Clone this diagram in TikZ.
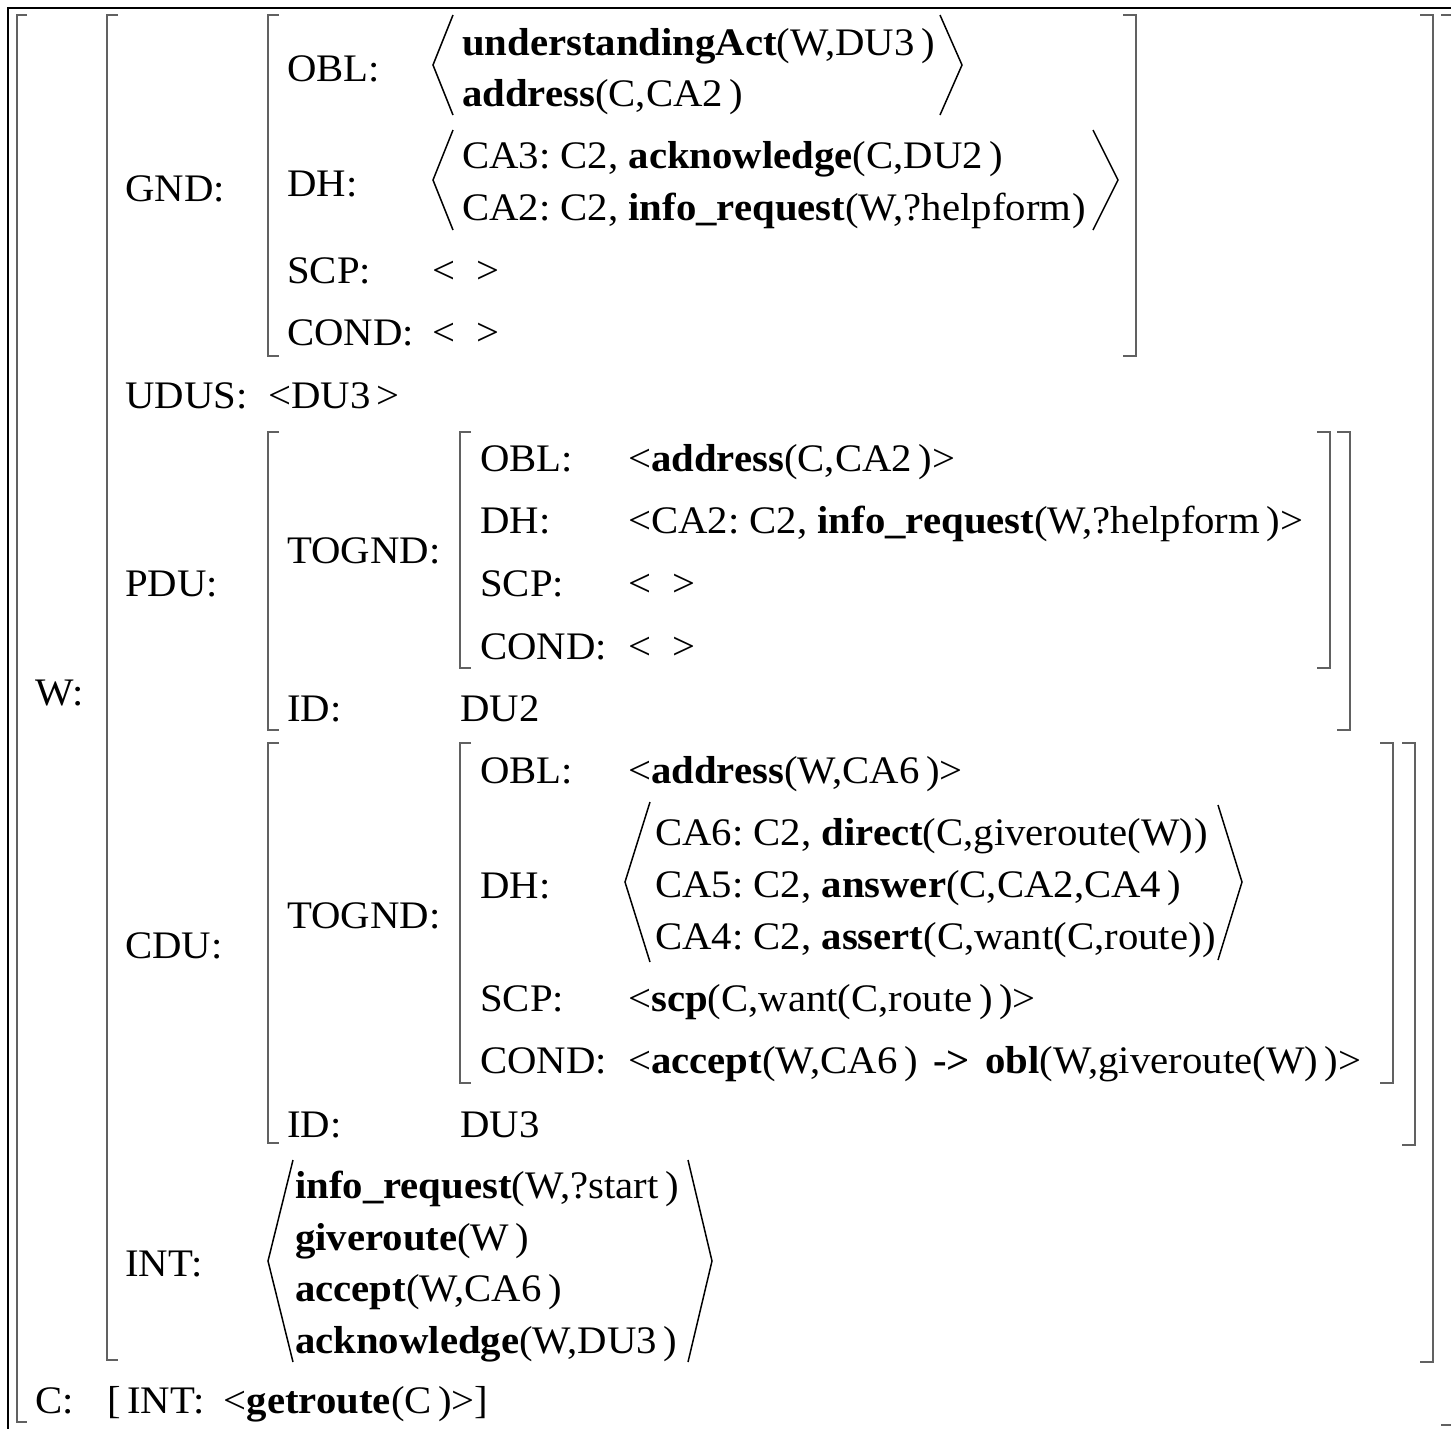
\documentclass[tikz,border=0pt]{standalone}
\usepackage{fontspec}
\setmainfont[FakeStretch=1.045]{Liberation Serif}
\frenchspacing
\newcommand\LBr[3]{\draw[br] (#1+11,#2) -- (#1,#2) -- (#1,#3) -- (#1+11,#3);}
\newcommand\RBr[3]{\draw[br] (#1-13,#2) -- (#1,#2) -- (#1,#3) -- (#1-13,#3);}
\begin{document}
\begin{tikzpicture}[x=1pt,y=-1pt,
  every node/.style={inner sep=0pt, anchor=base west, font=\fontsize{39}{47}\selectfont},
  br/.style={line width=2.4pt, draw=black!62},
  ang/.style={line width=1.5pt, draw=black, line join=miter},
  frame/.style={line width=2.6pt, draw=black}]
\useasboundingbox (0,0) rectangle (1451,1428);
\clip (0,0) rectangle (1451,1428);
% frame
\draw[frame] (8,1432) -- (8,8) -- (1455,8);
% outer bracket
\draw[br] (17+10,15) -- (17,15) -- (17,1422) -- (17+10,1422);
\draw[br] (1441,15) -- (1456,15) -- (1456,1425) -- (1441,1425);
% W value bracket
\LBr{107}{15}{1360}
\RBr{1433}{15}{1362}
% GND bracket
\LBr{268}{15}{356}
\RBr{1136}{15}{356}
% PDU bracket and its TOGND
\LBr{268}{432}{730}
\RBr{1350}{432}{730}
\LBr{460}{432}{668}
\RBr{1330}{432}{668}
% CDU bracket and its TOGND
\LBr{268}{743}{1143}
\RBr{1415}{743}{1145}
\LBr{460}{743}{1083}
\RBr{1393}{743}{1083}
% angle brackets
\draw[ang] (453,15) -- (433,65) -- (453,115);
\draw[ang] (940,15) -- (962,65) -- (940,115);
\draw[ang] (453,130) -- (433,180) -- (453,230);
\draw[ang] (1093,130) -- (1118,180) -- (1093,230);
\draw[ang] (650,802) -- (625,882) -- (650,962);
\draw[ang] (1218,805) -- (1242,882) -- (1218,960);
\draw[ang] (293,1160) -- (268,1261) -- (293,1362);
\draw[ang] (688,1160) -- (712,1261) -- (688,1362);
% top-level labels
\node (w) at (35,705) {W:};
\node (c) at (35,1413) {C:};
\node (cval) at (107,1413) {[\,INT:\hspace{0.5em}<\textbf{getroute}(C\,)>]};
% W features
\node (gnd) at (125,201) {GND:};
\node (udus) at (125,408) {UDUS:};
\node (udusv) at (268,408) {<DU3\,>};
\node (pdu) at (125,596) {PDU:};
\node (cdu) at (125,958) {CDU:};
\node (int) at (125,1276) {INT:};
% GND
\node (gobl) at (287,81) {OBL:};
\node (gobl1) at (462,55) {\textbf{understandingAct}(W,DU3\,)};
\node (gobl2) at (462,106) {\textbf{address}(C,CA2\,)};
\node (gdh) at (287,196) {DH:};
\node (gdh1) at (462,168) {CA3: C2, \textbf{acknowledge}(C,DU2\,)};
\node (gdh2) at (462,220) {CA2: C2, \textbf{info\_request}(W,?helpform\kern1pt)};
\node (gscp) at (287,283) {SCP:};
\node (gscpv) at (432,283) {<\hspace{0.55em}>};
\node (gcond) at (287,345) {COND:};
\node (gcondv) at (432,345) {<\hspace{0.55em}>};
% PDU
\node (ptog) at (287,563) {TOGND:};
\node (pobl) at (480,471) {OBL:};
\node (poblv) at (628,471) {<\textbf{address}(C,CA2\,)>};
\node (pdh) at (480,533) {DH:};
\node (pdhv) at (628,533) {<CA2: C2, \textbf{info\_request}(W,?helpform\,)>};
\node (pscp) at (480,596) {SCP:};
\node (pscpv) at (628,596) {<\hspace{0.55em}>};
\node (pcond) at (480,659) {COND:};
\node (pcondv) at (628,659) {<\hspace{0.55em}>};
\node (pid) at (287,721) {ID:};
\node (pidv) at (460,721) {DU2};
% CDU
\node (ctog) at (287,928) {TOGND:};
\node (cobl) at (480,783) {OBL:};
\node (coblv) at (628,783) {<\textbf{address}(W,CA6\,)>};
\node (cdh) at (480,898) {DH:};
\node (cdh1) at (655,845) {CA6: C2, \textbf{direct}(C,giveroute(W)\kern1pt)};
\node (cdh2) at (655,897) {CA5: C2, \textbf{answer}(C,CA2,CA4\,)};
\node (cdh3) at (655,949) {CA4: C2, \textbf{assert}(C,want(C,route)\kern1pt)};
\node (cscp) at (480,1011) {SCP:};
\node (cscpv) at (628,1011) {<\textbf{scp}(C,want(C,route\,)\,)>};
\node (ccond) at (480,1073) {COND:};
\node (ccondv) at (628,1073) {<\textbf{accept}(W,CA6\,)\hspace{0.4em}\textbf{->}\hspace{0.4em}\textbf{obl}(W,giveroute(W)\,)>};
\node (cid) at (287,1137) {ID:};
\node (cidv) at (460,1137) {DU3};
% INT
\node (int1) at (295,1198) {\textbf{info\_request}(W,?start\,)};
\node (int2) at (295,1250) {\textbf{giveroute}(W\,)};
\node (int3) at (295,1301) {\textbf{accept}(W,CA6\,)};
\node (int4) at (295,1353) {\textbf{acknowledge}(W,DU3\,)};
\end{tikzpicture}
\end{document}
